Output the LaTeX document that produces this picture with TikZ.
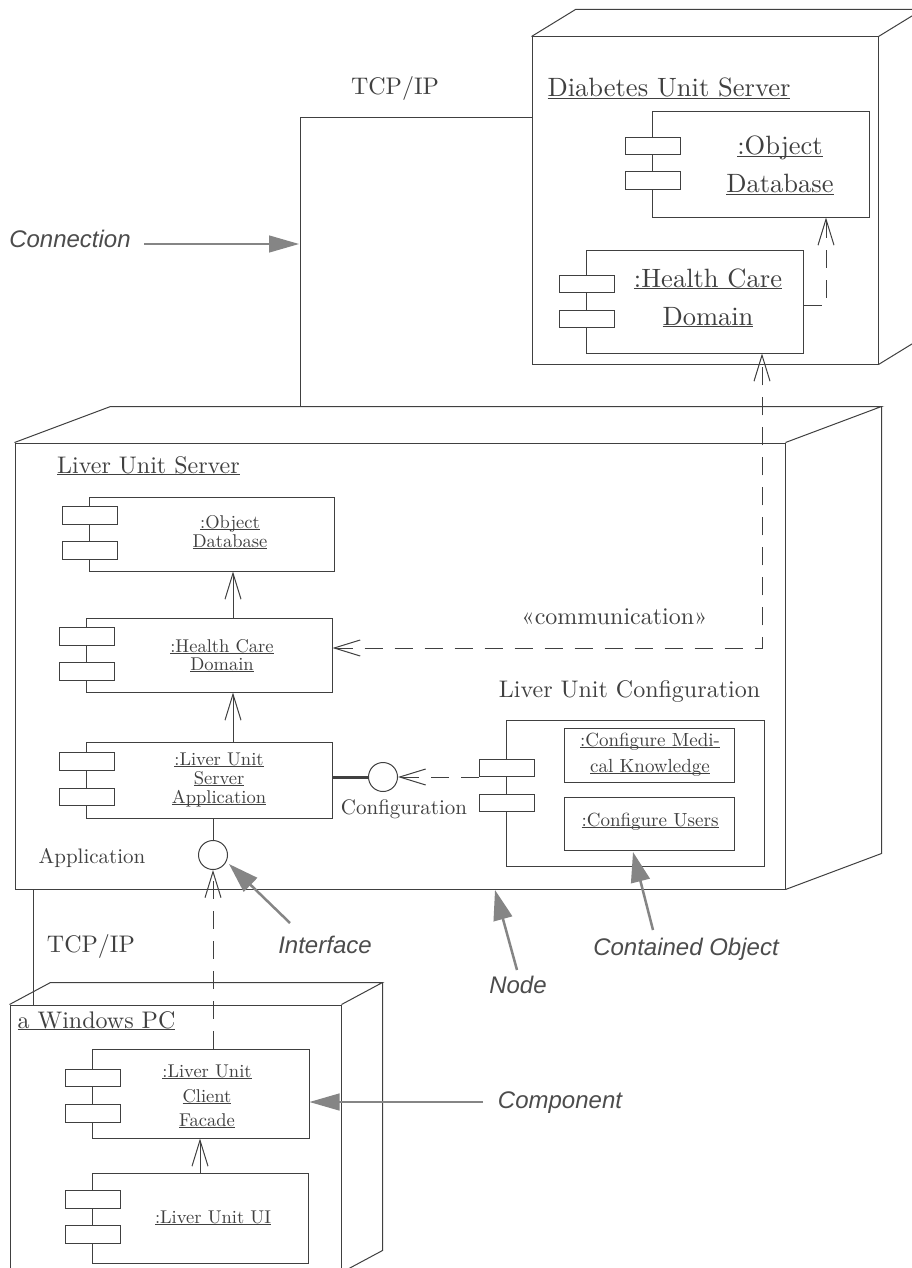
\documentclass[tikz,border=0pt]{standalone}
\usepackage{fontspec}
\setmainfont{lmroman10-regular}[Extension=.otf,ItalicFont=lmroman10-italic,BoldFont=lmroman10-bold]
\newfontfamily\lblfont{Liberation Sans}
\usetikzlibrary{arrows.meta,calc}
\definecolor{ink}{gray}{0.25}
\definecolor{ptrc}{gray}{0.52}
\definecolor{lbl}{gray}{0.3}
\newcommand{\uln}[1]{\underline{\smash{#1}}}
\newcommand{\fsz}[2]{\fontsize{#1}{#2}\selectfont}
\newcommand{\comptabs}[3]{%
  \node[tabbox] (#1ta) at ([shift={(1.5,#2)}]#1.west) {};%
  \node[tabbox] (#1tb) at ([shift={(1.5,#3)}]#1.west) {};}
\begin{document}
\begin{tikzpicture}[x=1pt,y=-1pt,
  ln/.style={draw=ink,line width=1pt},
  face/.style={draw=ink,line width=1pt,inner sep=0pt,rectangle},
  comp/.style={draw=ink,line width=1pt,inner sep=0pt,rectangle,fill=white},
  tabbox/.style={draw=ink,line width=1pt,fill=white,inner sep=0pt,minimum width=55pt,minimum height=17.5pt},
  iface/.style={circle,draw=ink,line width=1pt,fill=white,inner sep=0pt,minimum size=29pt},
  dep/.style={draw=ink,line width=1pt,-{Straight Barb[length=26pt,width=16pt]}},
  dsh/.style={dash pattern=on 18pt off 12pt},
  ptr/.style={draw=ptrc,line width=2.5pt,-{Triangle[length=30pt,width=19pt]}},
  thinptr/.style={draw=ptrc,line width=1.2pt,-{Triangle[length=30pt,width=17pt]}},
  tbig/.style={font=\fsz{24}{28},text=ink,inner sep=0pt,anchor=base},
  thuge/.style={font=\fsz{26.5}{30},text=ink,inner sep=0pt,anchor=base},
  tsm/.style={font=\fsz{18.5}{20},text=ink,inner sep=0pt,anchor=base},
  tcf/.style={font=\fsz{19}{22},text=ink,inner sep=0pt,anchor=base},
  tmid/.style={font=\fsz{21}{24},text=ink,inner sep=0pt,anchor=base},
  tlab/.style={font=\lblfont\itshape\fsz{24}{28},text=lbl,inner sep=0pt,anchor=base}
]
\path[use as bounding box] (0,0) rectangle (912,1268);
\fill[white] (0,0) rectangle (912,1268);
\clip (0,0) rectangle (912,1268);

% ---------- Diabetes Unit Server node ----------
\node[face,minimum width=346pt,minimum height=327pt] (dus) at (705,200.5) {};
\draw[ln] (dus.north west) -- ([shift={(44,-27)}]dus.north west)
  -- ([shift={(44,-27)}]dus.north east) -- (dus.north east);
\draw[ln] ([shift={(44,-27)}]dus.north east) -- ([shift={(44,-27)}]dus.south east) -- (dus.south east);
\node[thuge] (dusl) at (669,97) {\uln{Diabetes Unit Server}};

\node[comp,minimum width=217pt,minimum height=105pt] (dOD) at (760.5,164.5) {};
\comptabs{dOD}{-18.5}{16}
\node[thuge] (dODa) at (780,155) {\uln{:Object}};
\node[thuge] (dODb) at (780,193) {\uln{Database}};

\node[comp,minimum width=217pt,minimum height=103pt] (dHCD) at (694.5,301.5) {};
\comptabs{dHCD}{-17.5}{17.5}
\node[thuge] (dHCDa) at (708,287) {\uln{:Health Care}};
\node[thuge] (dHCDb) at (708,325) {\uln{Domain}};

\draw[dep,dsh] ([yshift=-3.5pt]dHCD.east) -| ([xshift=65.5pt]dOD.south);

% ---------- Liver Unit Server node ----------
\node[face,minimum width=770pt,minimum height=446pt] (lus) at (400,666) {};
\draw[ln] (lus.north west) -- ([shift={(96,-36)}]lus.north west)
  -- ([shift={(96,-36)}]lus.north east) -- (lus.north east);
\draw[ln] ([shift={(96,-36)}]lus.north east) -- ([shift={(96,-36)}]lus.south east) -- (lus.south east);
\node[tbig] (lusl) at (148.5,473) {\uln{Liver Unit Server}};

\node[comp,minimum width=245pt,minimum height=74pt] (lOD) at (211.5,534) {};
\comptabs{lOD}{-18.5}{16.5}
\node[tsm] (lODa) at (230,528) {\uln{:Object}};
\node[tsm] (lODb) at (230,547) {\uln{Database}};

\node[comp,minimum width=246pt,minimum height=74pt] (lHCD) at (209,655) {};
\comptabs{lHCD}{-18.5}{16.5}
\node[tsm] (lHCDa) at (222,652) {\uln{:Health Care}};
\node[tsm] (lHCDb) at (222,670) {\uln{Domain}};

\node[comp,minimum width=246pt,minimum height=76pt] (lusa) at (209,780) {};
\comptabs{lusa}{-18.5}{17}
\node[tsm] (lusaa) at (219,765) {\uln{:Liver Unit}};
\node[tsm] (lusab) at (219,784) {\uln{Server}};
\node[tsm] (lusac) at (219,803) {\uln{Application}};

\draw[dep] ([xshift=24pt]lHCD.north) -- ([xshift=24pt]lHCD.north |- lOD.south);
\draw[dep] ([xshift=24pt]lusa.north) -- ([xshift=24pt]lusa.north |- lHCD.south);

% Liver Unit Configuration
\node[tbig] (cfgl) at (629.5,697) {Liver Unit Configuration};
\node[comp,minimum width=258pt,minimum height=146pt] (cfg) at (635,793) {};
\comptabs{cfg}{-25}{10}
\node[comp,minimum width=170pt,minimum height=54pt] (cfgA) at (649,755) {};
\node[tcf] (cfgAa) at (650,746) {\uln{:Configure Medi-}};
\node[tcf] (cfgAb) at (650,772) {\uln{cal Knowledge}};
\node[comp,minimum width=170pt,minimum height=53pt] (cfgB) at (649,823.5) {};
\node[tcf] (cfgBa) at (650,826) {\uln{:Configure Users}};

% interfaces
\node[iface] (cfgc) at (383,777) {};
\node[iface] (appc) at (213,855) {};
\draw[draw=ink,line width=3pt] (lusa.east |- cfgc) -- (cfgc.west);
\draw[dep,dsh] (cfgc -| cfgta.west) -- (cfgc.east);
\draw[ln] (lusa.south -| appc) -- (appc.north);
\node[tmid] (cfgcl) at (404,814) {Configuration};
\node[tmid] (appcl) at (92,863) {Application};

% communication
\draw[dsh,draw=ink,line width=1pt,{Straight Barb[length=26pt,width=16pt]}-{Straight Barb[length=26pt,width=16pt]}]
  ([yshift=7pt]lHCD.east) -| ([xshift=67.5pt]dHCD.south);
\node[tbig] (comm) at (614.5,624) {«communication»};

% ---------- a Windows PC node ----------
\node[face,minimum width=331pt,minimum height=267pt] (win) at (175.5,1138.5) {};
\draw[ln] (win.north west) -- ([shift={(41,-22)}]win.north west)
  -- ([shift={(41,-22)}]win.north east) -- (win.north east);
\draw[ln] ([shift={(41,-22)}]win.north east) -- ([shift={(41,-22)}]win.south east) -- (win.south east);
\node[tbig] (winl) at (96.5,1028) {\uln{a Windows PC}};

\node[comp,minimum width=217pt,minimum height=89pt] (fac) at (200.5,1093.5) {};
\comptabs{fac}{-15.5}{20}
\node[tsm] (faca) at (207,1077) {\uln{:Liver Unit}};
\node[tsm] (facb) at (207,1102) {\uln{Client}};
\node[tsm] (facc) at (207,1126) {\uln{Facade}};

\node[comp,minimum width=216pt,minimum height=90pt] (ui) at (200,1218) {};
\comptabs{ui}{-18.5}{16.5}
\node[tsm] (uia) at (213,1223) {\uln{:Liver Unit UI}};

\draw[dep] (ui.north) -- (ui.north |- fac.south);
\draw[dep,dsh] (fac.north -| appc) -- (appc.south);

% ---------- connections ----------
\coordinate (c1) at (300,118);
\coordinate (lusTop) at ([yshift=36pt]lus.north);
\draw[ln] (c1 -| dus.west) -- (c1) -- (c1 |- lusTop);
\node[tbig] (tcp1) at (395,95) {TCP/IP};
\coordinate (c2) at (33,950);
\draw[ln] (c2 |- lus.south) -- (c2 |- win.north);
\node[tbig] (tcp2) at (91,952) {TCP/IP};

% ---------- annotation pointers ----------
\node[tlab] (connl) at (70,247) {Connection};
\coordinate (connT) at (144,244);
\coordinate (connH) at (299,244);
\draw[thinptr] (connT) -- (connH);

\node[tlab] (compl) at (560,1108) {Component};
\coordinate (compT) at (483,1102);
\draw[thinptr] (compT) -- (compT -| fac.east);

\node[tlab] (ifl) at (325,953) {Interface};
\coordinate (ifT) at (290,923);
\coordinate (ifH) at (229,864);
\draw[ptr] (ifT) -- (ifH);

\node[tlab] (nodel) at (518,993) {Node};
\coordinate (nodeT) at (517,970);
\coordinate (nodeH) at (495,890);
\draw[ptr] (nodeT) -- (nodeH);

\node[tlab] (contl) at (686,955) {Contained Object};
\coordinate (contT) at (653,930);
\coordinate (contH) at (633,852);
\draw[ptr] (contT) -- (contH);
\end{tikzpicture}
\end{document}
